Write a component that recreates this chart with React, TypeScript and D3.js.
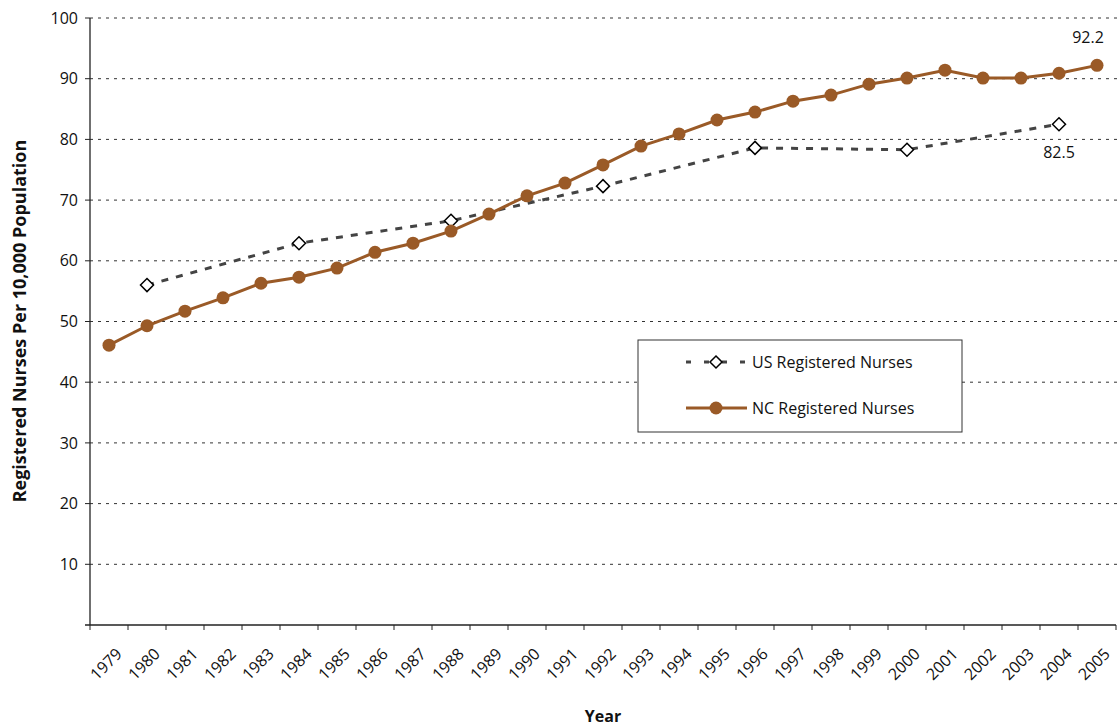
import React from 'react';
import * as d3 from 'd3';

const years = [
  '1979', '1980', '1981', '1982', '1983', '1984', '1985', '1986', '1987',
  '1988', '1989', '1990', '1991', '1992', '1993', '1994', '1995', '1996',
  '1997', '1998', '1999', '2000', '2001', '2002', '2003', '2004', '2005',
];

const ncValues = [
  46.1, 49.3, 51.7, 53.9, 56.3, 57.3, 58.8, 61.4, 62.9, 64.9, 67.7, 70.7,
  72.8, 75.8, 78.9, 80.9, 83.2, 84.5, 86.3, 87.3, 89.1, 90.1, 91.4, 90.1,
  90.1, 90.9, 92.2,
];

const usYears = ['1980', '1984', '1988', '1992', '1996', '2000', '2004'];
const usValues = [56.0, 62.9, 66.6, 72.3, 78.6, 78.3, 82.5];

const yTicks = [10, 20, 30, 40, 50, 60, 70, 80, 90, 100];

const FONT = '"Open Sans", "Noto Sans", sans-serif';
const BROWN = '#9a5a27';

export default function App() {
  const width = 1117;
  const height = 728;
  const left = 90;
  const right = 1116;
  const top = 18;
  const bottom = 625;

  const x = d3.scaleBand<string>().domain(years).range([left, right]);
  const y = d3.scaleLinear().domain([0, 100]).range([bottom, top]);
  const cx = (yr: string) => (x(yr) || 0) + x.bandwidth() / 2;

  const nc = years.map((yr, i) => ({ yr, v: ncValues[i] }));
  const us = usYears.map((yr, i) => ({ yr, v: usValues[i] }));

  const line = d3
    .line<{ yr: string; v: number }>()
    .x((d) => cx(d.yr))
    .y((d) => y(d.v));

  const diamond = (px: number, py: number, r: number) =>
    `M${px},${py - r}L${px + r},${py}L${px},${py + r}L${px - r},${py}Z`;

  const tickEdges = years.map((yr) => x(yr) || 0).concat([right]);

  return (
    <svg
      width={width}
      height={height}
      style={{ position: 'absolute', left: 0, top: 0, background: '#fff' }}
      fontFamily={FONT}
    >
      {/* grid */}
      {yTicks.map((t) => (
        <line
          key={'g' + t}
          x1={left}
          x2={width}
          y1={y(t)}
          y2={y(t)}
          stroke="#333"
          strokeWidth={1}
          strokeDasharray="3,5"
        />
      ))}
      {/* y axis */}
      <line x1={left} x2={left} y1={top} y2={bottom} stroke="#222" strokeWidth={1.3} />
      {yTicks.map((t) => (
        <g key={'y' + t}>
          <line x1={left - 5} x2={left} y1={y(t)} y2={y(t)} stroke="#222" />
          <text
            x={78}
            y={y(t)}
            dy="0.35em"
            textAnchor="end"
            fontSize={16}
            fill="#111"
          >
            {t}
          </text>
        </g>
      ))}
      {/* x axis */}
      <line x1={left - 5} x2={right} y1={bottom} y2={bottom} stroke="#222" strokeWidth={1.3} />
      {tickEdges.map((e, i) => (
        <line key={'xt' + i} x1={e} x2={e} y1={bottom} y2={bottom + 5} stroke="#222" />
      ))}
      {years.map((yr) => (
        <text
          key={'xl' + yr}
          transform={`translate(${cx(yr) + 14},${655}) rotate(-45)`}
          textAnchor="end"
          fontSize={16}
          fill="#111"
        >
          {yr}
        </text>
      ))}

      {/* US series */}
      <path
        d={line(us) || ''}
        fill="none"
        stroke="#444"
        strokeWidth={3}
        strokeDasharray="7,8"
      />
      {us.map((d) => (
        <path
          key={'us' + d.yr}
          d={diamond(cx(d.yr), y(d.v), 6.5)}
          fill="#fff"
          stroke="#000"
          strokeWidth={1.5}
        />
      ))}

      {/* NC series */}
      <path d={line(nc) || ''} fill="none" stroke={BROWN} strokeWidth={3} />
      {nc.map((d) => (
        <circle key={'nc' + d.yr} cx={cx(d.yr)} cy={y(d.v)} r={6.5} fill={BROWN} />
      ))}

      {/* annotations */}
      <text x={cx('2005') - 9} y={y(92.2) - 22} textAnchor="middle" fontSize={16} fill="#111">
        92.2
      </text>
      <text x={cx('2004')} y={y(82.5) + 34} textAnchor="middle" fontSize={16} fill="#111">
        82.5
      </text>

      {/* legend */}
      <rect x={638} y={340} width={324} height={92} fill="#fff" stroke="#333" strokeWidth={1} />
      <line x1={686} x2={747} y1={362} y2={362} stroke="#444" strokeWidth={3} strokeDasharray="5,13" />
      <path d={diamond(716, 362, 6)} fill="#fff" stroke="#000" strokeWidth={1.5} />
      <text x={752} y={362} dy="0.35em" fontSize={16} fill="#111">
        US Registered Nurses
      </text>
      <line x1={686} x2={747} y1={408} y2={408} stroke={BROWN} strokeWidth={3} />
      <circle cx={716} cy={408} r={6.5} fill={BROWN} />
      <text x={752} y={408} dy="0.35em" fontSize={16} fill="#111">
        NC Registered Nurses
      </text>

      {/* axis titles */}
      <text
        transform={`translate(26,${321}) rotate(-90)`}
        textAnchor="middle"
        fontSize={18}
        fontWeight="bold"
        fill="#111"
      >
        Registered Nurses Per 10,000 Population
      </text>
      <text x={603} y={722} textAnchor="middle" fontSize={16} fontWeight="bold" fill="#111">
        Year
      </text>
    </svg>
  );
}
